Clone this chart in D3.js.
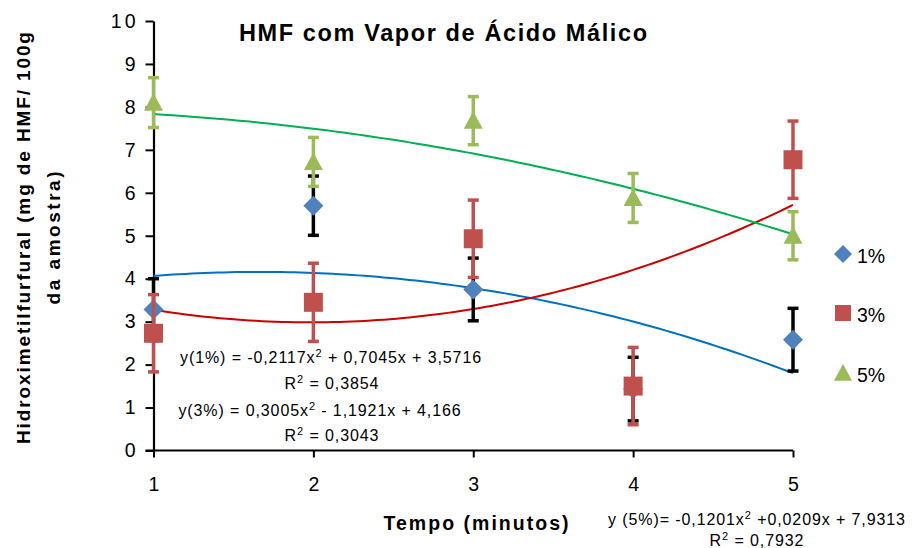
<!DOCTYPE html>
<html>
<head>
<meta charset="utf-8">
<script src="https://cdn.jsdelivr.net/npm/d3@7"></script>
<style>
  html, body { margin: 0; padding: 0; background: #fff; }
  svg { display: block; font-family: "Liberation Sans", Arial, sans-serif; }
</style>
</head>
<body>
<svg id="chart" width="914" height="548"></svg>
<script>
// Tempo (minutos)
const times = [1, 2, 3, 4, 5];
const yTicks = [0, 1, 2, 3, 4, 5, 6, 7, 8, 9, 10];

// Mean HMF per concentration and its error (± half-range)
const seriesNames = ["1%", "3%", "5%"];
const values1 = [3.28, 5.70, 3.75, 1.43, 2.58];
const errors1 = [0.72, 0.69, 0.73, 0.74, 0.73];
const values3 = [2.73, 3.45, 4.93, 1.50, 6.77];
const errors3 = [0.90, 0.91, 0.90, 0.90, 0.90];
const values5 = [8.10, 6.72, 7.68, 5.88, 5.00];
const errors5 = [0.58, 0.57, 0.56, 0.57, 0.56];

// Second-order trendline coefficients [a, b, c] for a·x² + b·x + c
const trend1 = [-0.2117, 0.7045, 3.5716];
const trend3 = [0.3005, -1.1921, 4.166];
const trend5 = [-0.1201, 0.0209, 7.9313];

const eq1 = ["y(1%) = -0,2117x", " + 0,7045x + 3,5716"];
const r1 = "0,3854";
const eq3 = ["y(3%) = 0,3005x", " - 1,1921x + 4,166"];
const r3 = "0,3043";
const eq5 = ["y (5%)= -0,1201x", " +0,0209x + 7,9313"];
const r5 = "0,7932";

const svg = d3.select("#chart");
const x = d3.scaleLinear().domain([1, 5]).range([153.5, 793]);
const y = d3.scaleLinear().domain([0, 10]).range([450.5, 21]);

const series = [
  { name: seriesNames[0], vals: values1, errs: errors1, trend: trend1, fill: "#4F81BD", err: "#000000", line: "#0070C0", shape: "diamond" },
  { name: seriesNames[1], vals: values3, errs: errors3, trend: trend3, fill: "#C0504D", err: "#C0504D", line: "#CC0000", shape: "square" },
  { name: seriesNames[2], vals: values5, errs: errors5, trend: trend5, fill: "#9BBB59", err: "#9BBB59", line: "#00B050", shape: "triangle" }
];

function symbolPath(shape, s) {
  if (shape === "diamond") return `M0,${-s}L${s},0L0,${s}L${-s},0Z`;
  if (shape === "square") return `M${-s},${-s}H${s}V${s}H${-s}Z`;
  return `M0,${-s * 1.0}L${s * 1.0},${s * 0.85}L${-s * 1.0},${s * 0.85}Z`;
}

// Title
svg.append("text")
  .attr("x", 443).attr("y", 41)
  .attr("text-anchor", "middle")
  .attr("font-size", 23.5).attr("font-weight", "bold")
  .attr("textLength", 408).attr("lengthAdjust", "spacing")
  .text("HMF com Vapor de Ácido Málico");

// Y axis
const yAxis = d3.axisLeft(y).tickValues(yTicks).tickSize(8).tickSizeOuter(0).tickFormat(d3.format("d"));
const gy = svg.append("g").attr("transform", `translate(${x(1)},0)`).call(yAxis);
gy.select(".domain").attr("stroke", "#000").attr("stroke-width", 2.2);
gy.selectAll(".tick line").attr("stroke", "#000").attr("stroke-width", 2);
gy.selectAll(".tick text").attr("font-size", 19.5).attr("fill", "#000").attr("x", -15)
  .attr("letter-spacing", 3)
  .attr("font-family", "Liberation Sans, Arial, sans-serif");

// X axis
const xAxis = d3.axisBottom(x).tickValues(times).tickSize(7).tickSizeOuter(0).tickFormat(d3.format("d"));
const gx = svg.append("g").attr("transform", `translate(0,${y(0)})`).call(xAxis);
gx.select(".domain").attr("stroke", "#000").attr("stroke-width", 2.2).attr("d", `M${x(1) - 8},0H${x(5)}`);
gx.selectAll(".tick line").attr("stroke", "#000").attr("stroke-width", 2);
gx.selectAll(".tick text").attr("font-size", 19.5).attr("fill", "#000").attr("y", 27)
  .attr("font-family", "Liberation Sans, Arial, sans-serif");

// Axis titles
svg.append("text")
  .attr("transform", "translate(30,238) rotate(-90)")
  .attr("text-anchor", "middle")
  .attr("font-size", 19).attr("font-weight", "bold")
  .attr("textLength", 412).attr("lengthAdjust", "spacing")
  .text("Hidroximetilfurfural (mg de HMF/ 100g");
svg.append("text")
  .attr("transform", "translate(60,238) rotate(-90)")
  .attr("text-anchor", "middle")
  .attr("font-size", 19).attr("font-weight", "bold")
  .attr("textLength", 133).attr("lengthAdjust", "spacing")
  .text("da amostra)");
svg.append("text")
  .attr("x", 476).attr("y", 530)
  .attr("text-anchor", "middle")
  .attr("font-size", 19.5).attr("font-weight", "bold")
  .attr("textLength", 185).attr("lengthAdjust", "spacing")
  .text("Tempo (minutos)");

// Trendlines from the fitted coefficients
const fine = d3.range(0, 101).map(i => 1 + i * 0.04);
const line = d3.line().x(d => x(d[0])).y(d => y(d[1]));
series.forEach(s => {
  const pts = fine.map(t => [t, s.trend[0] * t * t + s.trend[1] * t + s.trend[2]]);
  svg.append("path").attr("d", line(pts))
    .attr("fill", "none").attr("stroke", s.line).attr("stroke-width", 2);
});

// Error bars and markers, series by series
series.forEach(s => {
  const g = svg.append("g");
  times.forEach((t, i) => {
    const cx = x(t), lo = y(s.vals[i] - s.errs[i]), hi = y(s.vals[i] + s.errs[i]);
    g.append("line").attr("x1", cx).attr("x2", cx).attr("y1", lo).attr("y2", hi)
      .attr("stroke", s.err).attr("stroke-width", 3.5);
    [lo, hi].forEach(yy => g.append("line").attr("x1", cx - 5.5).attr("x2", cx + 5.5)
      .attr("y1", yy).attr("y2", yy).attr("stroke", s.err).attr("stroke-width", 3.5));
  });
  g.selectAll("path.mk").data(s.vals).join("path").attr("class", "mk")
    .attr("transform", (d, i) => `translate(${x(times[i])},${y(d)})`)
    .attr("d", symbolPath(s.shape, s.shape === "diamond" ? 10 : 9.5))
    .attr("fill", s.fill);
});

// Legend
const legY = [254, 313, 373];
series.forEach((s, i) => {
  svg.append("path").attr("transform", `translate(843,${legY[i]})`)
    .attr("d", symbolPath(s.shape, s.shape === "square" ? 8 : 9)).attr("fill", s.fill);
  svg.append("text").attr("x", 857).attr("y", legY[i] + 8.5)
    .attr("font-size", 19.5).text(s.name);
});

// Trendline equations
function equation(cx, cy, parts) {
  const t = svg.append("text").attr("x", cx).attr("y", cy).attr("text-anchor", "middle")
    .attr("font-size", 16).attr("letter-spacing", 0.9);
  t.append("tspan").text(parts[0]);
  t.append("tspan").attr("dy", -6).attr("font-size", 11).text("2");
  t.append("tspan").attr("dy", 6).text(parts[1]);
}
function rsq(cx, cy, val) {
  const t = svg.append("text").attr("x", cx).attr("y", cy).attr("text-anchor", "middle")
    .attr("font-size", 16).attr("letter-spacing", 0.9);
  t.append("tspan").text("R");
  t.append("tspan").attr("dy", -6).attr("font-size", 11).text("2");
  t.append("tspan").attr("dy", 6).text(" = " + val);
}
equation(331, 363, eq1);
rsq(332, 389, r1);
equation(320, 416, eq3);
rsq(332, 441, r3);
equation(757, 525, eq5);
rsq(757, 546, r5);
</script>
</body>
</html>
